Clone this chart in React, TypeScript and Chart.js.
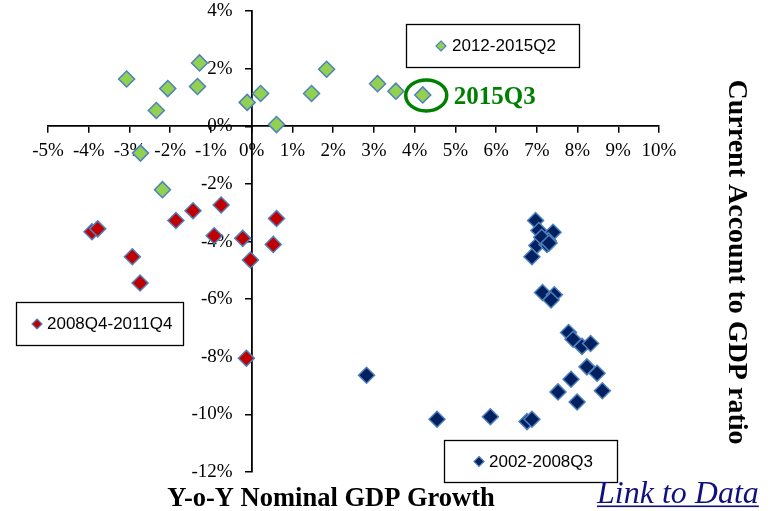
import React, { useEffect, useRef } from "react";
import { Chart, registerables } from "chart.js";

Chart.register(...registerables);

// ---- Data (Y-o-Y nominal GDP growth %, current account to GDP %) ----
const seriesNames = ["2002-2008Q3", "2008Q4-2011Q4", "2012-2015Q2", "2015Q3"];

const boomGrowth = [6.97, 7.05, 7.4, 7.28, 7.0, 7.25, 6.88, 7.14, 7.43, 7.35, 7.78, 7.89, 8.11, 8.32, 8.23, 8.48, 7.84, 7.52, 7.99, 8.61, 5.86, 6.76, 6.88, 2.82, 4.55, 7.12, 7.3];
const boomCA = [-3.27, -3.62, -3.68, -3.97, -4.14, -4.1, -4.53, -5.77, -5.85, -6.03, -7.16, -7.39, -7.64, -7.54, -8.35, -8.57, -8.78, -9.22, -9.57, -9.18, -10.08, -10.25, -10.17, -8.64, -10.17, -3.85, -4.05];

const crisisGrowth = [-3.92, -3.78, -2.93, -2.74, -1.86, -1.44, -0.75, -0.92, -0.22, -0.03, 0.61, 0.53, -0.13];
const crisisCA = [-3.66, -3.56, -4.53, -5.44, -3.27, -2.93, -2.73, -3.8, -3.89, -4.64, -3.2, -4.1, -8.05];

const recentGrowth = [-3.07, -1.28, -2.06, -1.33, -2.34, -0.11, 0.22, 0.61, 1.47, 1.84, 3.09, 3.54, -2.73, -2.19];
const recentCA = [1.64, 2.2, 1.31, 1.38, 0.55, 0.83, 1.14, 0.06, 1.14, 1.98, 1.48, 1.22, -0.93, -2.2];

const latestGrowth = [4.2];
const latestCA = [1.09];

const xTickValues = [-5, -4, -3, -2, -1, 0, 1, 2, 3, 4, 5, 6, 7, 8, 9, 10];
const yTickValues = [-12, -10, -8, -6, -4, -2, 0, 2, 4];

const xTitle = "Y-o-Y Nominal GDP Growth";
const yTitle = "Current Account to GDP ratio";
const linkText = "Link to Data";

const GREEN = "#92D050";
const RED = "#C00000";
const NAVY = "#002060";
const EDGE = "#4F81BD";

const toPoints = (xs: number[], ys: number[]) => xs.map((x, i) => ({ x, y: ys[i] }));

function diamond(ctx: CanvasRenderingContext2D, x: number, y: number, r: number, fill: string) {
  ctx.beginPath();
  ctx.moveTo(x, y - r);
  ctx.lineTo(x + r, y);
  ctx.lineTo(x, y + r);
  ctx.lineTo(x - r, y);
  ctx.closePath();
  ctx.fillStyle = fill;
  ctx.fill();
  ctx.strokeStyle = EDGE;
  ctx.lineWidth = 1.2;
  ctx.stroke();
}

const overlayPlugin = {
  id: "overlay",
  afterDatasetsDraw(chart: any) {
    const ctx: CanvasRenderingContext2D = chart.ctx;
    const xs = chart.scales.x;
    const ys = chart.scales.y;
    ctx.save();

    // 2015Q3 annotation
    const px = xs.getPixelForValue(latestGrowth[0]);
    const py = ys.getPixelForValue(latestCA[0]);
    ctx.strokeStyle = "#008000";
    ctx.lineWidth = 3.5;
    ctx.beginPath();
    ctx.ellipse(px + 3.5, py + 0.5, 20.5, 15.5, 0, 0, Math.PI * 2);
    ctx.stroke();
    ctx.fillStyle = "#008000";
    ctx.font = "bold 25px 'Liberation Serif'";
    ctx.textAlign = "left";
    ctx.textBaseline = "alphabetic";
    ctx.fillText(seriesNames[3], px + 31, py + 9.5);

    // legend boxes
    const boxes = [
      { x: 406, y: 24, w: 173, h: 43, mx: 35, tx: 46, name: seriesNames[2], fill: GREEN },
      { x: 16, y: 302, w: 167, h: 43, mx: 21, tx: 31, name: seriesNames[1], fill: RED },
      { x: 444, y: 440, w: 173, h: 42, mx: 35, tx: 45, name: seriesNames[0], fill: NAVY },
    ];
    for (const b of boxes) {
      ctx.fillStyle = "#ffffff";
      ctx.fillRect(b.x, b.y, b.w, b.h);
      ctx.strokeStyle = "#000000";
      ctx.lineWidth = 1.3;
      ctx.strokeRect(b.x + 0.5, b.y + 0.5, b.w, b.h);
      const cy = b.y + b.h / 2 + 0.5;
      diamond(ctx, b.x + b.mx, cy, 5, b.fill);
      ctx.fillStyle = "#000000";
      ctx.font = "17px 'Liberation Sans'";
      ctx.textAlign = "left";
      ctx.textBaseline = "middle";
      ctx.fillText(b.name, b.x + b.tx, cy + 0.5);
    }

    // axis titles
    ctx.fillStyle = "#000000";
    ctx.font = "bold 26.5px 'Liberation Serif'";
    ctx.textAlign = "center";
    ctx.textBaseline = "alphabetic";
    ctx.fillText(xTitle, 331, 506);

    ctx.save();
    ctx.translate(729, 262);
    ctx.rotate(Math.PI / 2);
    ctx.font = "bold 28px 'Liberation Serif'";
    ctx.textAlign = "center";
    ctx.textBaseline = "alphabetic";
    ctx.fillText(yTitle, 0, 0);
    ctx.restore();

    // link
    ctx.fillStyle = "#10107E";
    ctx.font = "italic 32px 'Liberation Serif'";
    ctx.textAlign = "left";
    ctx.textBaseline = "alphabetic";
    ctx.fillText(linkText, 597, 503);
    const lw = ctx.measureText(linkText).width;
    ctx.fillRect(597, 505.5, lw, 1.6);

    ctx.restore();
  },
};

export default function App() {
  const ref = useRef<HTMLCanvasElement | null>(null);

  useEffect(() => {
    if (!ref.current) return;
    const ds = (label: string, xs: number[], ys: number[], fill: string) => ({
      label,
      data: toPoints(xs, ys),
      pointStyle: "rectRot",
      pointRadius: 8,
      pointHoverRadius: 8,
      backgroundColor: fill,
      borderColor: EDGE,
      borderWidth: 1.5,
      showLine: false,
    });
    const chart = new Chart(ref.current, {
      type: "scatter",
      data: {
        datasets: [
          ds(seriesNames[0], boomGrowth, boomCA, NAVY),
          ds(seriesNames[1], crisisGrowth, crisisCA, RED),
          ds(seriesNames[2], recentGrowth, recentCA, GREEN),
          ds(seriesNames[3], latestGrowth, latestCA, GREEN),
        ],
      },
      options: {
        animation: false,
        responsive: false,
        maintainAspectRatio: false,
        events: [],
        layout: { padding: { left: 48, right: 116, top: 0, bottom: 39 } },
        plugins: { legend: { display: false }, tooltip: { enabled: false }, title: { display: false } },
        scales: {
          x: {
            type: "linear",
            position: { y: 0 },
            min: xTickValues[0],
            max: xTickValues[xTickValues.length - 1],
            afterBuildTicks: (s: any) => {
              s.ticks = xTickValues.map((v) => ({ value: v }));
            },
            ticks: {
              autoSkip: false,
              maxRotation: 0,
              padding: 7.5,
              color: "#000000",
              font: { family: "'Liberation Serif'", size: 19 },
              callback: (v: any) => `${v}%`,
            },
            grid: { drawOnChartArea: false, drawTicks: true, tickLength: 6, color: "#000000", lineWidth: 1.5 },
            border: { display: true, color: "#000000", width: 1.8 },
          },
          y: {
            type: "linear",
            position: { x: 0 },
            min: yTickValues[0],
            max: yTickValues[yTickValues.length - 1],
            afterBuildTicks: (s: any) => {
              s.ticks = yTickValues.map((v) => ({ value: v }));
            },
            ticks: {
              autoSkip: false,
              color: "#000000",
              font: { family: "'Liberation Serif'", size: 19, lineHeight: 0.85 },
              callback: (v: any) => `${v}%\u2002\u2002`,
            },
            grid: { drawOnChartArea: false, drawTicks: true, tickLength: 6, color: "#000000", lineWidth: 1.5 },
            border: { display: true, color: "#000000", width: 1.8 },
          },
        },
      },
      plugins: [overlayPlugin],
    } as any);
    return () => chart.destroy();
  }, []);

  return (
    <div style={{ position: "absolute", left: 0, top: 0, width: 775, height: 511, background: "#ffffff" }}>
      <canvas ref={ref} width={775} height={511} style={{ display: "block", width: 775, height: 511 }} />
    </div>
  );
}
